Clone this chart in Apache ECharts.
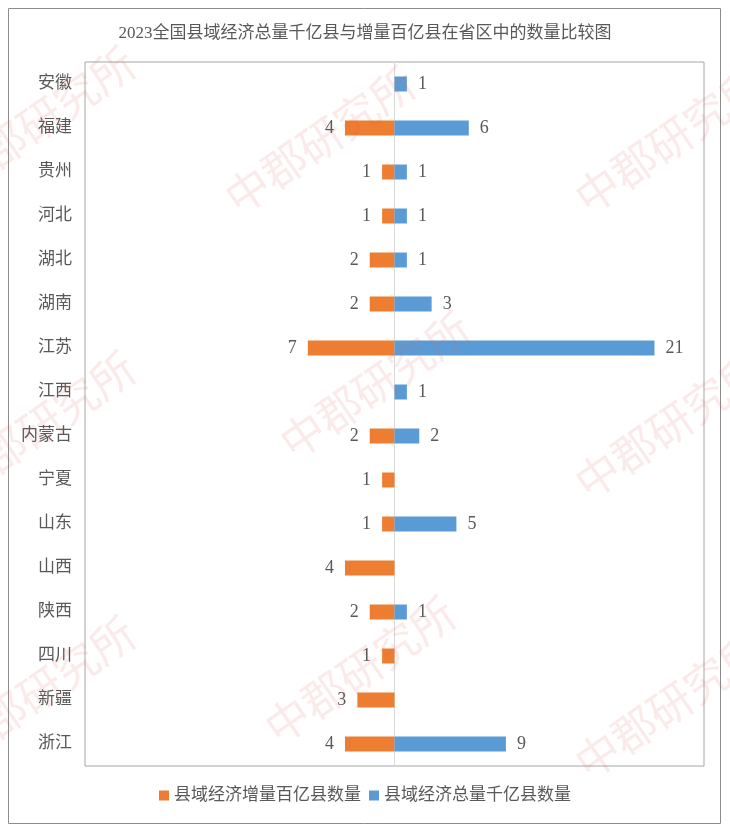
<!DOCTYPE html>
<html><head><meta charset="utf-8">
<script src="https://cdn.jsdelivr.net/npm/echarts@6/dist/echarts.min.js"></script>
<style>html,body{margin:0;padding:0;background:#fff}#c{width:730px;height:833px}</style>
</head><body><div id="c"></div>
<script>
const titleText = '2023全国县域经济总量千亿县与增量百亿县在省区中的数量比较图';
const provinces = ['安徽','福建','贵州','河北','湖北','湖南','江苏','江西','内蒙古','宁夏','山东','山西','陕西','四川','新疆','浙江'];
const incrementCounts = [0,4,1,1,2,2,7,0,2,1,1,4,2,1,3,4];   // 县域经济增量百亿县数量
const totalCounts = [1,6,1,1,1,3,21,1,2,0,5,0,1,0,0,9];       // 县域经济总量千亿县数量
const seriesNames = ['县域经济增量百亿县数量','县域经济总量千亿县数量'];

const FONT = "'Liberation Serif','Noto Sans CJK SC',serif";
const TXT = '#595959';

const wmPos = [[40,120],[320,140],[670,140],[375,385],[670,425],[40,425],[360,670],[670,705],[40,690]];
const watermarks = wmPos.map(p => ({
  type:'text', x:p[0], y:p[1], rotation: Math.PI/5.2, z:100, silent:true,
  style:{text:'中郡研究所', font:"44px 'Noto Sans CJK SC'", fill:'rgba(225,90,90,0.13)', align:'center', verticalAlign:'middle'}
}));

const chart = echarts.init(document.getElementById('c'), null, {renderer:'canvas'});
chart.setOption({
  animation:false,
  backgroundColor:'#fff',
  title:{text:titleText, left:'center', top:20, textStyle:{fontFamily:FONT, fontSize:17, fontWeight:'normal', color:TXT}},
  graphic:[{type:'rect', shape:{x:8.5,y:8.5,width:712,height:815}, style:{fill:'none', stroke:'#8c8c8c', lineWidth:1}, silent:true}].concat(watermarks),
  legend:{bottom:24, left:'center', itemWidth:10, itemHeight:10, itemGap:8, icon:'rect',
    textStyle:{fontFamily:FONT, fontSize:17, color:TXT}, data:seriesNames},
  grid:{left:85, right:26, top:62, bottom:67, show:true, borderColor:'#a6a6a6', borderWidth:1, containLabel:false},
  xAxis:{type:'value', min:-25, max:25, interval:5, axisLabel:{show:false}, axisTick:{show:false}, axisLine:{show:false},
    splitLine:{show:false}},
  yAxis:{type:'category', data:provinces, inverse:true, axisTick:{show:false},
    axisLine:{show:true, onZero:true, lineStyle:{color:'#d9d9d9'}},
    axisLabel:{fontFamily:FONT, fontSize:17, color:TXT, margin:13}},
  series:[
    {name:seriesNames[0], type:'bar', stack:'s', barWidth:15, itemStyle:{color:'#ED7D31'},
      data:incrementCounts.map(v => v ? -v : null),
      label:{show:true, position:'left', distance:11, fontFamily:FONT, fontSize:18, color:TXT, formatter:p => Math.abs(p.value)}},
    {name:seriesNames[1], type:'bar', stack:'s', barWidth:15, itemStyle:{color:'#5B9BD5'},
      data:totalCounts.map(v => v ? v : null),
      label:{show:true, position:'right', distance:11, fontFamily:FONT, fontSize:18, color:TXT}}
  ]
});
</script></body></html>
